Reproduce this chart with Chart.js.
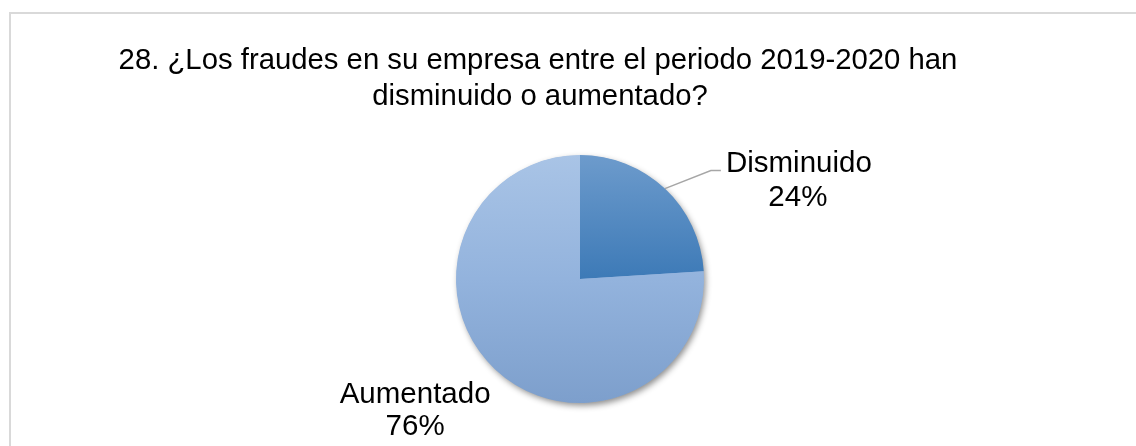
<!DOCTYPE html>
<html>
<head>
<meta charset="utf-8">
<script src="https://cdn.jsdelivr.net/npm/chart.js@4.4.1/dist/chart.umd.min.js"></script>
<style>
    html, body { margin: 0; padding: 0; background: #fff; overflow: hidden; }
    #wrap { position: relative; width: 1136px; height: 446px; }
    #frame { position: absolute; left: 9px; top: 12px; right: -10px; bottom: -10px;
             border-left: 2px solid #d9d9d9; border-top: 2px solid #d9d9d9; }
    #pieChart { position: absolute; left: 0; top: 0; }
</style>
</head>
<body>
<div id="wrap">
    <div id="frame"></div>
    <canvas id="pieChart" width="1136" height="446"></canvas>
</div>
<script>
// datos del grafico
const categories = ['Disminuido', 'Aumentado'];
const percentages = [24, 76];
const titleLines = ['28. ¿Los fraudes en su empresa entre el periodo 2019-2020 han', 'disminuido o aumentado?'];

// colores (degradado vertical por porcion)
const gradTop = ['#6d9bcc', '#a9c4e6'];
const gradMid = ['#3d7ab7', '#93b3dd'];
const gradBottom = ['#2f6aa6', '#7d9fcc'];

const FONT = '"Liberation Sans", Arial, sans-serif';

document.addEventListener('DOMContentLoaded', function () {

    const sliceFill = (ctx) => {
        const area = ctx.chart.chartArea;
        if (!area) return gradMid[ctx.dataIndex];
        const g = ctx.chart.ctx.createLinearGradient(0, area.top, 0, area.bottom);
        g.addColorStop(0, gradTop[ctx.dataIndex]);
        g.addColorStop(0.5, gradMid[ctx.dataIndex]);
        g.addColorStop(1, gradBottom[ctx.dataIndex]);
        return g;
    };

    // sombra suave debajo del pastel
    const pieShadow = {
        id: 'pieShadow',
        beforeDatasetsDraw(chart) {
            const arc = chart.getDatasetMeta(0).data[0];
            if (!arc) return;
            const c = chart.ctx;
            c.save();
            c.shadowColor = 'rgba(0,0,0,0.45)';
            c.shadowBlur = 6;
            c.shadowOffsetX = 2;
            c.shadowOffsetY = 3;
            c.beginPath();
            c.arc(arc.x, arc.y, arc.outerRadius - 0.5, 0, Math.PI * 2);
            c.fillStyle = '#8fadd6';
            c.fill();
            c.restore();
        }
    };

    // etiquetas de datos (categoria + porcentaje)
    const pieLabels = {
        id: 'pieLabels',
        afterDatasetsDraw(chart) {
            const c = chart.ctx;
            const total = percentages.reduce((a, b) => a + b, 0);
            const arcs = chart.getDatasetMeta(0).data;
            c.save();
            c.font = '29.5px ' + FONT;
            c.fillStyle = '#000';
            c.textAlign = 'center';
            c.textBaseline = 'alphabetic';
            arcs.forEach((arc, i) => {
                const mid = (arc.startAngle + arc.endAngle) / 2;
                const ex = arc.x + Math.cos(mid) * arc.outerRadius;
                const ey = arc.y + Math.sin(mid) * arc.outerRadius;
                const pct = Math.round(percentages[i] / total * 100) + '%';
                if (i === 0) {
                    // linea guia
                    const bx = ex + 46, by = ey - 18;
                    c.strokeStyle = '#a6a6a6';
                    c.lineWidth = 1.5;
                    c.beginPath();
                    c.moveTo(ex, ey);
                    c.lineTo(bx, by);
                    c.lineTo(bx + 10, by);
                    c.stroke();
                    c.fillText(categories[i], bx + 88, by + 1);
                    c.fillText(pct, bx + 87, by + 35);
                } else {
                    c.fillText(categories[i], ex - 80, ey + 34);
                    c.fillText(pct, ex - 80, ey + 66);
                }
            });
            c.restore();
        }
    };

    // titulo (dos lineas)
    const chartTitle = {
        id: 'chartTitle',
        afterDraw(chart) {
            const c = chart.ctx;
            c.save();
            c.font = '29.3px ' + FONT;
            c.fillStyle = '#000';
            c.textAlign = 'center';
            c.fillText(titleLines[0], 538, 69);
            c.fillText(titleLines[1], 540, 105);
            c.restore();
        }
    };

    new Chart(document.getElementById('pieChart').getContext('2d'), {
        type: 'pie',
        data: {
            labels: categories,
            datasets: [{ data: percentages, backgroundColor: sliceFill, borderWidth: 0, hoverOffset: 0 }]
        },
        options: {
            responsive: false,
            animation: false,
            layout: { padding: { top: 155, bottom: 43, left: 380, right: 356 } },
            plugins: { legend: { display: false }, tooltip: { enabled: false }, title: { display: false } }
        },
        plugins: [pieShadow, pieLabels, chartTitle]
    });
});
</script>
</body>
</html>
